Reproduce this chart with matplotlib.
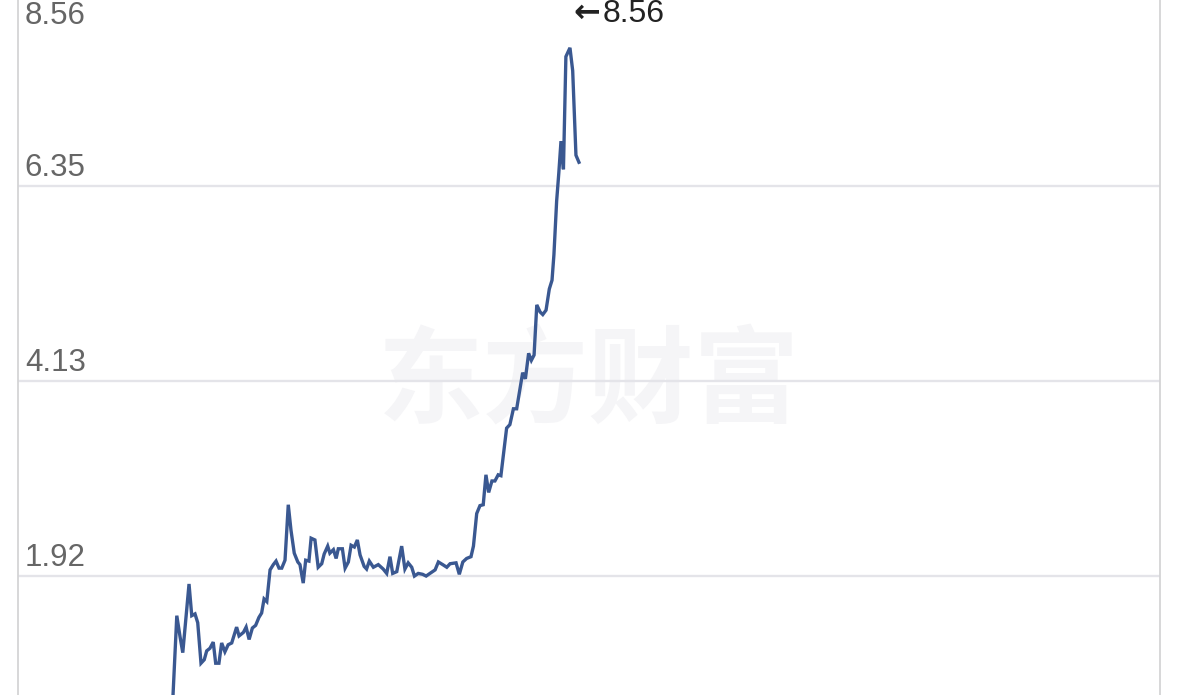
import matplotlib
matplotlib.use("Agg")
import matplotlib.pyplot as plt

# ---- data ----
days = [56.6, 58.4, 59.6, 60.6, 62.9, 63.9, 65.1, 66.1, 67.3, 68.5, 69.4, 70.6, 71.8, 72.7, 73.9,
        74.9, 76.1, 77.3, 78.6, 80.4, 81.3, 82.9, 83.9, 85.0, 86.2, 87.4, 88.6, 89.6, 90.5, 91.5,
        92.7, 93.9, 94.9, 96.0, 97.0, 98.2, 99.4, 100.4, 101.6, 102.9, 103.7, 104.9, 105.8, 107.0,
        107.8, 109.2, 110.4, 111.7, 112.6, 113.9, 114.7, 116.0, 117.0, 117.8, 119.3, 120.3, 121.5,
        122.5, 123.7, 124.8, 125.8, 127.3, 128.2, 129.2, 130.7, 132.5, 134.3, 135.6, 136.8, 137.8,
        139.3, 141.1, 142.3, 143.5, 144.8, 145.8, 147.2, 148.8, 150.1, 151.5, 153.4, 154.6, 156.2,
        157.7, 158.9, 161.1, 162.3, 163.6, 165.0, 166.6, 167.5, 168.7, 169.9, 171.1, 172.1, 173.1,
        174.3, 175.4, 176.6, 177.6, 179.7, 180.9, 182.2, 183.4, 185.6, 186.6, 187.8, 188.8, 189.8,
        190.8, 192.0, 193.0, 194.2, 195.4, 196.4, 197.1, 198.1, 198.9, 199.7, 200.6, 201.5, 203.0,
        204.0, 205.2, 206.3]
values = [0.30, 1.47, 1.23, 1.05, 1.83, 1.47, 1.49, 1.39, 0.93, 0.97, 1.07, 1.10, 1.17, 0.93, 0.93,
          1.16, 1.06, 1.14, 1.16, 1.34, 1.24, 1.28, 1.34, 1.20, 1.33, 1.36, 1.45, 1.50, 1.66, 1.63,
          1.99, 2.05, 2.09, 2.01, 2.01, 2.10, 2.73, 2.44, 2.18, 2.08, 2.05, 1.84, 2.10, 2.09,
          2.35, 2.33, 2.02, 2.06, 2.17, 2.26, 2.18, 2.22, 2.12, 2.23, 2.23, 2.01, 2.08,
          2.27, 2.25, 2.33, 2.16, 2.03, 2.00, 2.09, 2.02, 2.05, 2.00, 1.95, 2.14, 1.95,
          1.97, 2.26, 2.00, 2.07, 2.02, 1.92, 1.95, 1.94, 1.92, 1.95, 1.99, 2.08, 2.05,
          2.02, 2.06, 2.07, 1.94, 2.08, 2.12, 2.14, 2.26, 2.63, 2.72, 2.73, 3.07, 2.87,
          3.00, 3.00, 3.07, 3.06, 3.60, 3.64, 3.82, 3.82, 4.23, 4.16, 4.45, 4.37, 4.43,
          5.00, 4.92, 4.89, 4.94, 5.18, 5.28, 5.57, 6.18, 6.50, 6.86, 6.54, 7.82, 7.92,
          7.66, 6.70, 6.62]
ytick_values = [8.56, 6.35, 4.13, 1.92]
ytick_labels = ["8.56", "6.35", "4.13", "1.92"]
max_label = "8.56"
watermark = "东方财富"

# ---- figure ----
W, H = 1179, 695
fig = plt.figure(figsize=(W / 100, H / 100), dpi=100)
fig.patch.set_facecolor("white")
ax = fig.add_axes([18 / W, 0, 1142 / W, 1])
ax.set_xlim(0, 420)
ax.set_ylim(0.569, 8.463)
ax.set_xticks([])
ax.set_yticks([])
for s in ("top", "bottom"):
    ax.spines[s].set_visible(False)
for s in ("left", "right"):
    ax.spines[s].set_color("#d4d4d6")
    ax.spines[s].set_linewidth(1.3)

# watermark
ax.text(0.5, 0.448, watermark, transform=ax.transAxes, ha="center", va="center",
        fontsize=76, fontweight="bold", color="#f5f5f7",
        family=["Noto Sans CJK SC", "DejaVu Sans"], zorder=0)

# gridlines
for v in ytick_values:
    ax.axhline(v, color="#e4e4e9", lw=1.7, zorder=1)

# tick labels (inside, above gridlines)
lab_font = dict(fontsize=22.5, color="#666666", family=["Liberation Sans", "DejaVu Sans"])
ymin, ymax = ax.get_ylim()
xtr = ax.get_xaxis_transform()
for v, lab in zip(ytick_values, ytick_labels):
    if v >= ymax:
        ax.annotate(lab, xy=(2.5, 1.0), xycoords=xtr, xytext=(0, -0.5),
                    textcoords="offset points", ha="left", va="top", zorder=3, **lab_font)
    else:
        ax.annotate(lab, xy=(2.5, v), xytext=(0, 7.5), textcoords="offset points",
                    ha="left", va="baseline", zorder=3, **lab_font)

# price line
ax.plot(days, values, color="#3a5891", lw=2.4, solid_joinstyle="miter", zorder=4)

# max annotation: arrow + value
imax = max(range(len(values)), key=lambda i: values[i])
ax.annotate("←", xy=(days[imax] + 1.1, 1.0), xycoords=xtr, xytext=(0, 1.5),
            textcoords="offset points", ha="left", va="top", fontsize=23, fontweight="bold",
            color="#222222", family=["DejaVu Sans"], zorder=5, annotation_clip=False)
ax.annotate(max_label, xy=(days[imax] + 12.0, 1.0), xycoords=xtr, xytext=(0, 0.5),
            textcoords="offset points", ha="left", va="top", fontsize=23, color="#222222",
            family=["Liberation Sans", "DejaVu Sans"], zorder=5, annotation_clip=False)

fig.savefig("out.png", dpi=100, facecolor="white")
